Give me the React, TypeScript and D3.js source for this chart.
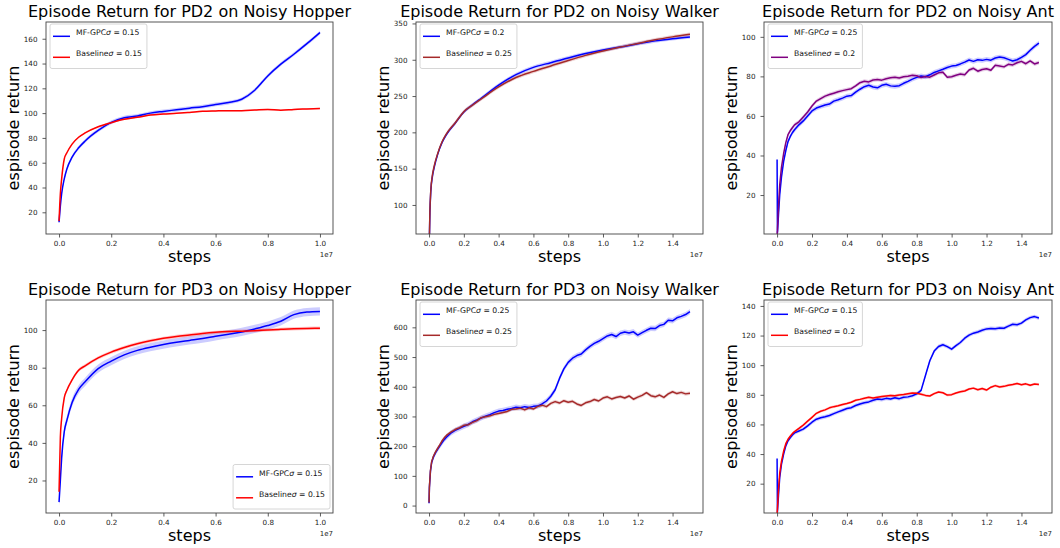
import { useEffect, useRef } from "react"
import * as d3 from "d3"

// sample positions, in units of 1e7 steps
const hopperSteps = [0, 0.005, 0.01, 0.02, 0.03, 0.05, 0.075, 0.1, 0.15, 0.2, 0.25, 0.3, 0.35, 0.4, 0.45, 0.5, 0.55, 0.6, 0.65, 0.7, 0.75, 0.8, 0.85, 0.9, 0.95, 1.0]
const pd2HopperMf = [12, 25, 35, 47, 55, 64.5, 72, 77.5, 86, 92.5, 96.3, 97.7, 100, 101.4, 102.7, 104, 105.2, 107, 108.5, 111.2, 118.5, 130, 139.5, 147.5, 156, 165]
const pd2HopperBase = [13, 35, 47, 63, 68, 75, 80.5, 84, 89, 92.3, 95, 96.6, 98.4, 99.2, 99.8, 100.6, 101.5, 101.8, 102, 102, 102.5, 103, 102.3, 103, 103.4, 103.8]
const pd3HopperMf = [8.5, 20, 32, 46, 52, 61.5, 68.5, 72.5, 79.5, 83.5, 86.8, 89.2, 90.9, 92.3, 93.5, 94.5, 95.5, 96.7, 97.8, 99, 100.6, 102.4, 104.7, 108.2, 109.6, 109.9]
const pd3HopperBase = [14, 43, 53, 64, 68, 73.5, 78.6, 81, 85.2, 88.3, 90.7, 92.7, 94.3, 95.6, 96.6, 97.4, 98.2, 98.8, 99.2, 99.4, 99.7, 100.1, 100.4, 100.7, 100.9, 101]

const walkerSteps = [0, 0.005, 0.01, 0.02, 0.03, 0.05, 0.075, 0.1, 0.15, 0.2, 0.25, 0.3, 0.4, 0.5, 0.6, 0.7, 0.8, 0.9, 1.0, 1.1, 1.2, 1.3, 1.4, 1.5]
const pd2WalkerMf = [30, 90, 118, 140, 152, 170, 186, 197, 212.5, 228, 238, 247, 265, 279.5, 289.5, 296, 302.5, 308.5, 313.5, 317.5, 322, 326, 329, 331.5]
const pd2WalkerBase = [30, 92, 120, 142, 154, 171, 187, 198, 213, 228.5, 237.5, 246, 262.5, 275.5, 284, 291.5, 299, 306, 312, 317.5, 322.5, 327.5, 331.5, 335]

const noisySteps = [
  0, 0.002, 0.008, 0.015, 0.025, 0.0375, 0.05, 0.0625, 0.075, 0.0875, 0.1,
  0.125, 0.15, 0.175, 0.2, 0.225, 0.25, 0.275, 0.3, 0.325, 0.35, 0.375, 0.4,
  0.425, 0.45, 0.475, 0.5, 0.525, 0.55, 0.575, 0.6, 0.625, 0.65, 0.675, 0.7,
  0.725, 0.75, 0.775, 0.8, 0.825, 0.85, 0.875, 0.9, 0.925, 0.95, 0.975, 1.0,
  1.025, 1.05, 1.075, 1.1, 1.125, 1.15, 1.175, 1.2, 1.225, 1.25, 1.275, 1.3,
  1.325, 1.35, 1.375, 1.4, 1.425, 1.45, 1.475, 1.5,
]
const pd2AntMf = [
  38, 1, 10, 20, 29, 37, 42.5, 47, 49.5, 51.5, 53,
  55.5, 57.5, 60, 62.5, 64, 64.8, 65.5, 66, 67.5, 68.2, 69, 70,
  70.3, 72, 73.5, 74.8, 75.5, 74.6, 74.2, 75.5, 76, 75.2, 75, 75.3,
  76.5, 77.5, 78.6, 79.5, 80.2, 79.8, 80.8, 82, 82.8, 83.6, 84.5, 85.2,
  85.5, 86.3, 87.2, 88.3, 87.6, 88.4, 88.1, 88.6, 88.2, 89.3, 89.8, 89.4,
  88.6, 87.8, 88.4, 89.6, 91, 93.2, 95.2, 96.8,
]
const pd2AntBase = [
  0, 2, 14, 25, 34, 41, 46.5, 50.5, 52.5, 54, 55.5,
  57, 59.5, 62, 65, 67.5, 68.8, 70, 70.8, 71.5, 72.2, 72.8, 73.3,
  73.8, 75.2, 76.8, 77.5, 77.2, 78.2, 78.4, 78.1, 78.8, 79.3, 79.6, 79.2,
  79.8, 80.1, 80.6, 80.3, 79.4, 79.9, 79.6, 80.7, 81.8, 82.1, 79.6, 79.8,
  80.6, 81.2, 80.8, 83.2, 84.1, 82.6, 83.5, 83.9, 83.1, 85.6, 85.3, 84.8,
  86.1, 85.8, 86.9, 87.6, 86.4, 87.8, 86.3, 87,
]
const pd3WalkerMf = [
  8, 60, 115, 145, 163, 178, 190, 201, 212, 222, 230,
  244, 253, 260, 267, 273, 282, 288, 295, 301, 306, 313, 318,
  320, 324, 327, 331, 329, 333, 330, 334, 335, 342, 352, 368,
  390, 428, 460, 482, 496, 505, 510, 524, 536, 546, 553, 562,
  571, 576, 569, 580, 584, 581, 585, 574, 582, 590, 597, 596,
  606, 610, 624, 622, 632, 637, 643, 653,
]
const pd3WalkerBase = [
  10, 62, 118, 148, 166, 181, 193, 205, 218, 228, 236,
  247, 256, 262, 270, 272, 280, 286, 296, 299, 302, 307, 310,
  313, 317, 324, 325, 328, 322, 329, 325, 334, 338, 333, 344,
  350, 345, 353, 348, 351, 342, 337, 346, 350, 357, 352, 362,
  366, 359, 364, 367, 362, 369, 358, 365, 371, 380, 370, 366,
  372, 364, 376, 383, 377, 381, 376, 378,
]
const pd3AntMf = [
  37, 1, 12, 24, 33, 40, 45.5, 49, 51, 52.8, 54.3,
  55.6, 56.8, 59, 61.5, 63.5, 64.5, 65.2, 66, 67.3, 68.5, 69.6, 70.7,
  71.3, 72.8, 73.8, 74.6, 75.2, 76.3, 77.1, 76.8, 77.6, 77.2, 78, 77.4,
  78.3, 78.6, 79.4, 80.6, 83, 93, 103, 109.5, 112.6, 113.8, 112.5, 110.8,
  113.2, 115.3, 118.2, 120.3, 121.6, 122.4, 123.6, 124.5, 124.8, 124.6, 125.1, 124.9,
  126.4, 127.6, 127.3, 128.4, 130.6, 132.1, 132.8, 131.8,
]
const pd3AntBase = [
  0, 3, 16, 27, 35, 42, 47, 50, 52, 53.8, 55.2,
  57.3, 59.5, 62.2, 64.8, 67.5, 68.9, 69.8, 71.2, 72, 72.6, 73.4, 74.1,
  75, 76.3, 76.9, 77.6, 78.3, 77.8, 78.4, 78.8, 79.2, 79.6, 79.3, 79.9,
  80.2, 80.7, 81.2, 81.1, 80.4, 79.6, 79.2, 80.8, 81.9, 81.4, 79.8, 80.1,
  81.2, 82, 82.6, 83.9, 84.5, 83.4, 84.2, 83.2, 85.1, 86.2, 85.3, 85.7,
  86.5, 86.9, 87.6, 86.8, 87.4, 86.4, 87.3, 87,
]

const titles = [
  "Episode Return for PD2 on Noisy Hopper",
  "Episode Return for PD2 on Noisy Walker",
  "Episode Return for PD2 on Noisy Ant",
  "Episode Return for PD3 on Noisy Hopper",
  "Episode Return for PD3 on Noisy Walker",
  "Episode Return for PD3 on Noisy Ant",
]
const mfSigmas = ["0.15", "0.2", "0.25", "0.15", "0.25", "0.15"]
const baseSigmas = ["0.15", "0.25", "0.2", "0.15", "0.25", "0.2"]
const hopperTicks = [0, 0.2, 0.4, 0.6, 0.8, 1.0]
const longTicks = [0, 0.2, 0.4, 0.6, 0.8, 1.0, 1.2, 1.4]

interface Series {
  name: string
  sigma: string
  values: number[]
  color: string
  spread: number
}

interface Panel {
  title: string
  steps: number[]
  xMax: number
  xTicks: number[]
  yDomain: [number, number]
  yTicks: number[]
  series: Series[]
  smooth: boolean
  box: { l: number; r: number; t: number; b: number }
  legend: "ul" | "lr"
}

const FONT = "DejaVu Sans"
const top = { t: 22, b: 234 }
const bot = { t: 300, b: 513 }
const cols = [{ l: 46, r: 333 }, { l: 416, r: 703 }, { l: 764, r: 1052 }]

const mf = (i: number, values: number[], spread: number): Series =>
  ({ name: "MF-GPC", sigma: mfSigmas[i], values, color: "#0000ff", spread })
const base = (i: number, values: number[], color: string, spread: number): Series =>
  ({ name: "Baseline", sigma: baseSigmas[i], values, color, spread })

const panels: Panel[] = [
  {
    title: titles[0], steps: hopperSteps, xMax: 1, xTicks: hopperTicks,
    yDomain: [2.5, 173.5], yTicks: [20, 40, 60, 80, 100, 120, 140, 160],
    series: [mf(0, pd2HopperMf, 1.5), base(0, pd2HopperBase, "#ff0000", 0.6)],
    smooth: true, box: { ...cols[0], ...top }, legend: "ul",
  },
  {
    title: titles[1], steps: walkerSteps, xMax: 1.5, xTicks: longTicks,
    yDomain: [60, 352], yTicks: [100, 150, 200, 250, 300, 350],
    series: [mf(1, pd2WalkerMf, 2.5), base(1, pd2WalkerBase, "#a52a2a", 2.5)],
    smooth: true, box: { ...cols[1], ...top }, legend: "ul",
  },
  {
    title: titles[2], steps: noisySteps, xMax: 1.5, xTicks: longTicks,
    yDomain: [0.3, 107.5], yTicks: [20, 40, 60, 80, 100],
    series: [mf(2, pd2AntMf, 1.2), base(2, pd2AntBase, "#800080", 1.0)],
    smooth: false, box: { ...cols[2], ...top }, legend: "ul",
  },
  {
    title: titles[3], steps: hopperSteps, xMax: 1, xTicks: hopperTicks,
    yDomain: [2.7, 116], yTicks: [20, 40, 60, 80, 100],
    series: [mf(3, pd3HopperMf, 2.2), base(3, pd3HopperBase, "#ff0000", 0.9)],
    smooth: true, box: { ...cols[0], ...bot }, legend: "lr",
  },
  {
    title: titles[4], steps: noisySteps, xMax: 1.5, xTicks: longTicks,
    yDomain: [-25, 692], yTicks: [0, 100, 200, 300, 400, 500, 600],
    series: [mf(4, pd3WalkerMf, 9), base(4, pd3WalkerBase, "#a52a2a", 6)],
    smooth: false, box: { ...cols[1], ...bot }, legend: "ul",
  },
  {
    title: titles[5], steps: noisySteps, xMax: 1.5, xTicks: longTicks,
    yDomain: [0.2, 144], yTicks: [20, 40, 60, 80, 100, 120, 140],
    series: [mf(5, pd3AntMf, 1.3), base(5, pd3AntBase, "#ff0000", 0.9)],
    smooth: false, box: { ...cols[2], ...bot }, legend: "ul",
  },
]

type Pt = { x: number; y: number }

export default function App() {
  const svgRef = useRef<SVGSVGElement>(null)

  useEffect(() => {
    if (!svgRef.current) return
    const svg = d3.select(svgRef.current)
    svg.selectAll("*").remove()

    svg.append("rect").attr("width", 1060).attr("height", 548).attr("fill", "#fff")

    panels.forEach((p, i) => {
      const { l, r, t, b } = p.box
      const x = d3.scaleLinear().domain([-0.05 * p.xMax, 1.05 * p.xMax]).range([l, r])
      const y = d3.scaleLinear().domain(p.yDomain).range([b, t])
      const curve = p.smooth ? d3.curveMonotoneX : d3.curveLinear
      const g = svg.append("g").attr("font-family", FONT)

      const clipId = `clip-${i}`
      g.append("clipPath").attr("id", clipId)
        .append("rect").attr("x", l).attr("y", t).attr("width", r - l).attr("height", b - t)
      const plot = g.append("g").attr("clip-path", `url(#${clipId})`)

      p.series.forEach((s) => {
        const pts: Pt[] = p.steps.map((st, k) => ({ x: st, y: s.values[k] }))
        const area = d3.area<Pt>()
          .curve(curve)
          .x((d) => x(d.x))
          .y0((d) => y(d.y - s.spread))
          .y1((d) => y(d.y + s.spread))
        plot.append("path").attr("d", area(pts) || "")
          .attr("fill", s.color).attr("opacity", 0.2)
      })
      p.series.forEach((s) => {
        const pts: Pt[] = p.steps.map((st, k) => ({ x: st, y: s.values[k] }))
        const line = d3.line<Pt>().curve(curve).x((d) => x(d.x)).y((d) => y(d.y))
        plot.append("path").attr("d", line(pts) || "")
          .attr("fill", "none").attr("stroke", s.color)
          .attr("stroke-width", 1.5).attr("stroke-linejoin", "round")
      })

      // axes
      const xAxis = g.append("g").attr("transform", `translate(0,${b})`)
        .call(d3.axisBottom(x).tickValues(p.xTicks).tickFormat(d3.format(".1f")).tickSize(3.5).tickPadding(3.5))
      const yAxis = g.append("g").attr("transform", `translate(${l},0)`)
        .call(d3.axisLeft(y).tickValues(p.yTicks).tickFormat(d3.format("d")).tickSize(3.5).tickPadding(5))
      ;[xAxis, yAxis].forEach((ax) => {
        ax.select(".domain").remove()
        ax.selectAll("line").attr("stroke", "#333").attr("stroke-width", 0.8)
        ax.selectAll("text").attr("font-size", 7.2).attr("fill", "#222").attr("font-family", FONT)
      })

      g.append("rect").attr("x", l).attr("y", t).attr("width", r - l).attr("height", b - t)
        .attr("fill", "none").attr("stroke", "#444").attr("stroke-width", 0.9)

      g.append("text").attr("x", (l + r) / 2).attr("y", t - 5)
        .attr("text-anchor", "middle").attr("font-size", 16).attr("fill", "#000")
        .text(p.title)
      g.append("text").attr("x", (l + r) / 2).attr("y", b + 28)
        .attr("text-anchor", "middle").attr("font-size", 16).attr("fill", "#000")
        .text("steps")
      g.append("text").attr("x", r).attr("y", b + 22.7)
        .attr("text-anchor", "end").attr("font-size", 7).attr("fill", "#222")
        .text("1e7")
      g.append("text")
        .attr("transform", `translate(${l - 27.5},${(t + b) / 2}) rotate(-90)`)
        .attr("text-anchor", "middle").attr("font-size", 16).attr("fill", "#000")
        .text("espisode return")

      // legend
      const lg = g.append("g")
      const texts = p.series.map((s) => {
        const tx = lg.append("text").attr("font-size", 7.7).attr("fill", "#111")
        tx.append("tspan").text(s.name)
        tx.append("tspan").attr("font-style", "italic").text("σ")
        tx.append("tspan").text(` = ${s.sigma}`)
        return tx
      })
      const textW = d3.max(texts, (tx) => (tx.node() as SVGTextElement).getComputedTextLength()) || 60
      const lw = 26 + textW + 5
      const lh = 44.5
      const lx = p.legend === "ul" ? l + 4 : r - 3 - lw
      const ly = p.legend === "ul" ? t + 2 : b - 4 - lh
      lg.insert("rect", ":first-child")
        .attr("x", lx).attr("y", ly).attr("width", lw).attr("height", lh)
        .attr("rx", 2).attr("fill", "#fff").attr("fill-opacity", 0.85)
        .attr("stroke", "#cccccc").attr("stroke-width", 0.8)
      p.series.forEach((s, k) => {
        const rowY = ly + 12.3 + k * 21
        lg.append("line").attr("x1", lx + 3).attr("x2", lx + 20)
          .attr("y1", rowY).attr("y2", rowY)
          .attr("stroke", s.color).attr("stroke-width", 1.5)
        texts[k].attr("x", lx + 26).attr("y", rowY - 1)
      })
    })
  }, [])

  return (
    <svg
      ref={svgRef}
      width={1060}
      height={548}
      style={{ position: "fixed", left: 0, top: 0, background: "#fff" }}
    />
  )
}
